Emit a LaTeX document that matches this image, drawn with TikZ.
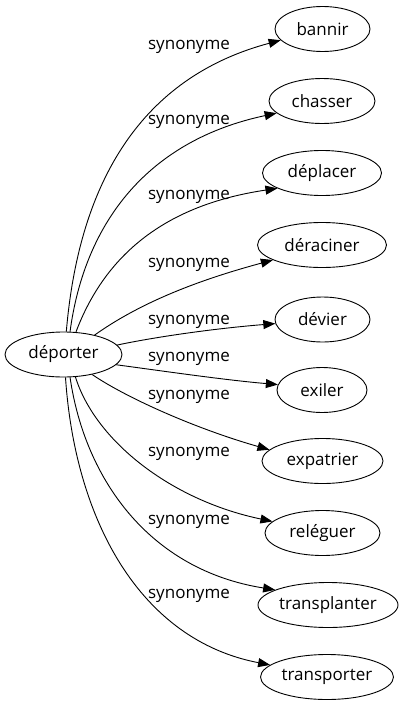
\documentclass[tikz,border=0pt]{standalone}
\usepackage{fontspec}
\setmainfont{Open Sans}
\usetikzlibrary{shapes.geometric,arrows.meta}
\tikzset{
  word/.style={draw=black, line width=0.9pt, ellipse, inner sep=0pt, minimum height=45pt, font=\fontsize{17}{20}\selectfont},
  lbl/.style={inner sep=0pt, font=\fontsize{17}{20}\selectfont},
  edge/.style={draw=black, line width=0.9pt, -{Triangle[length=12pt,width=9pt]}}
}
\begin{document}
\begin{tikzpicture}[x=1pt,y=-1pt]
\useasboundingbox (0,0) rectangle (403,707);
\node[word, minimum width=117pt] (dep) at (63.5,354.5) {déporter};
\node[word, minimum width=95pt]  (bannir) at (322.5,29) {bannir};
\node[word, minimum width=106pt] (chasser) at (322,101) {chasser};
\node[word, minimum width=119pt] (deplacer) at (322,173) {déplacer};
\node[word, minimum width=129pt] (deraciner) at (322,245) {déraciner};
\node[word, minimum width=95pt]  (devier) at (322.5,319.5) {dévier};
\node[word, minimum width=90pt]  (exiler) at (322,390) {exiler};
\node[word, minimum width=121pt] (expatrier) at (322.5,461) {expatrier};
\node[word, minimum width=115pt] (releguer) at (322.5,533) {reléguer};
\node[word, minimum width=140pt] (transplanter) at (328,605) {transplanter};
\node[word, minimum width=133pt] (transporter) at (327,677) {transporter};

\node[lbl] (l1) at (189,47) {synonyme};
\node[lbl] (l2) at (189,122) {synonyme};
\node[lbl] (l3) at (189,197) {synonyme};
\node[lbl] (l4) at (189,265) {synonyme};
\node[lbl] (l5) at (189,322) {synonyme};
\node[lbl] (l6) at (189,359) {synonyme};
\node[lbl] (l7) at (189,397) {synonyme};
\node[lbl] (l8) at (189,454) {synonyme};
\node[lbl] (l9) at (189,522) {synonyme};
\node[lbl] (l10) at (189,596) {synonyme};

\draw[edge] (dep.83) .. controls (80,170) and (150,75) .. (bannir.195);
\draw[edge] (dep.74) .. controls (85,220) and (150,140) .. (chasser.195);
\draw[edge] (dep.61) .. controls (105,255) and (165,205) .. (deplacer.199);
\draw[edge] (dep.32) .. controls (130,310) and (180,285) .. (deraciner.197);
\draw[edge] (dep.10) .. controls (160,336) and (220,328) .. (devier.185);
\draw[edge] (dep.-11) .. controls (170,372) and (225,380) .. (exiler.173.5);
\draw[edge] (dep.-35) .. controls (130,400) and (200,430) .. (expatrier.168);
\draw[edge] (dep.-62) .. controls (95,440) and (170,500) .. (releguer.167.7);
\draw[edge] (dep.-74) .. controls (85,480) and (150,570) .. (transplanter.164);
\draw[edge] (dep.-85) .. controls (75,520) and (140,640) .. (transporter.168);
\end{tikzpicture}
\end{document}
